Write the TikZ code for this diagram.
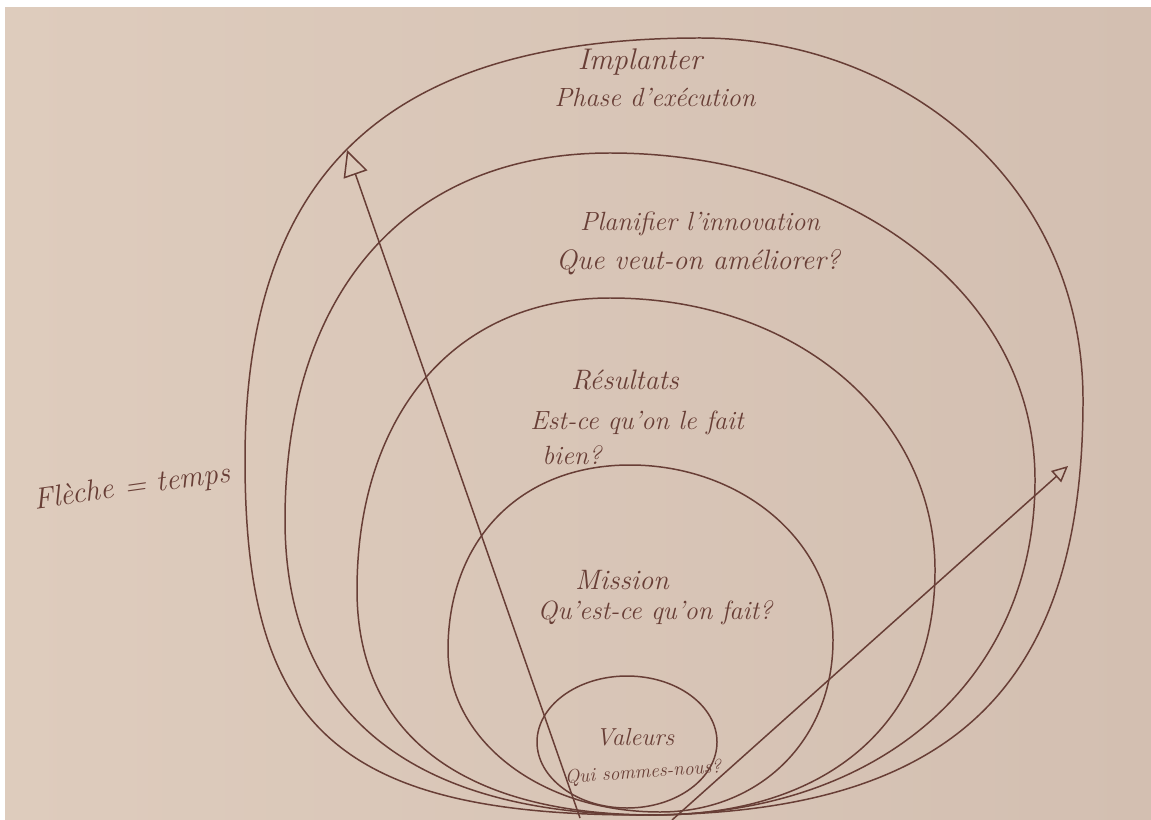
\documentclass[tikz,border=0pt]{standalone}
\usetikzlibrary{arrows.meta}
\definecolor{paperL}{RGB}{222,204,189}
\definecolor{paperR}{RGB}{211,191,177}
\definecolor{inkc}{RGB}{104,62,54}
\begin{document}
\begin{tikzpicture}[x=0.02cm,y=-0.02cm,
  ink/.style={draw=inkc, line width=0.85pt},
  lbl/.style={text=inkc, inner sep=0pt, font=\itshape\fontsize{#1}{#1}\selectfont},
  lbl/.default=15,
  timearrow/.style={ink, -{Triangle[open, length=0.52cm, width=0.5cm, line width=0.85pt]}},
  shortarrow/.style={ink, -{Triangle[open, length=0.32cm, width=0.3cm, line width=0.85pt]}}]
% sheet of paper
\fill[white] (0,0) rectangle (1151,820);
\shade[left color=paperL, right color=paperR] (5,8) rectangle (1151,820);
\useasboundingbox (0,0) rectangle (1151,820);

% nested loops, all meeting at the bottom
\draw[ink] (640,815) .. controls (330,815) and (245,720) .. (245,460)
  .. controls (245,170) and (390,38) .. (700,38)
  .. controls (900,38) and (1083,180) .. (1083,400)
  .. controls (1083,690) and (950,815) .. (640,815) -- cycle;
\draw[ink] (650,815) .. controls (420,815) and (285,720) .. (285,520)
  .. controls (285,300) and (400,153) .. (610,153)
  .. controls (830,153) and (1035,280) .. (1035,480)
  .. controls (1035,680) and (880,815) .. (650,815) -- cycle;
\draw[ink] (655,815) .. controls (470,815) and (357,740) .. (357,590)
  .. controls (357,420) and (450,298) .. (610,298)
  .. controls (800,298) and (935,420) .. (935,570)
  .. controls (935,730) and (820,815) .. (655,815) -- cycle;
\draw[ink] (660,812) .. controls (540,812) and (448,740) .. (448,650)
  .. controls (448,540) and (520,465) .. (630,465)
  .. controls (740,465) and (833,540) .. (833,640)
  .. controls (833,740) and (760,812) .. (660,812) -- cycle;
\draw[ink] (627,808) .. controls (577,808) and (537,778) .. (537,742)
  .. controls (537,706) and (577,676) .. (627,676)
  .. controls (677,676) and (717,706) .. (717,742)
  .. controls (717,778) and (677,808) .. (627,808) -- cycle;

% time arrows
\coordinate (a1s) at (580,818);
\coordinate (a1e) at (347,150);
\coordinate (a2s) at (672,820);
\coordinate (a2e) at (1068,466);
\draw[timearrow] (a1s) -- (a1e);
\draw[shortarrow] (a2s) -- (a2e);

% labels
\node[lbl=17] (impl)  at (640,62)  {Implanter};
\node[lbl]    (impl2) at (655,97)  {Phase d'exécution};
\node[lbl]    (plan)  at (700,224) {Planifier l'innovation};
\node[lbl=16] (plan2) at (698,262) {Que veut-on améliorer?};
\node[lbl=16] (res)   at (625,380) {Résultats};
\node[lbl]    (res2)  at (637,423) {Est-ce qu'on le fait};
\node[lbl]    (res3)  at (572,455) {bien?};
\node[lbl=16] (mis)   at (622,580) {Mission};
\node[lbl]    (mis2)  at (655,613) {Qu'est-ce qu'on fait?};
\node[lbl=14] (val)   at (635,737) {Valeurs};
\node[lbl=11, rotate=4] (val2) at (643,773) {Qui sommes-nous?};
\node[lbl=17, rotate=8] (fleche) at (132,488) {Flèche = temps};
\end{tikzpicture}
\end{document}
